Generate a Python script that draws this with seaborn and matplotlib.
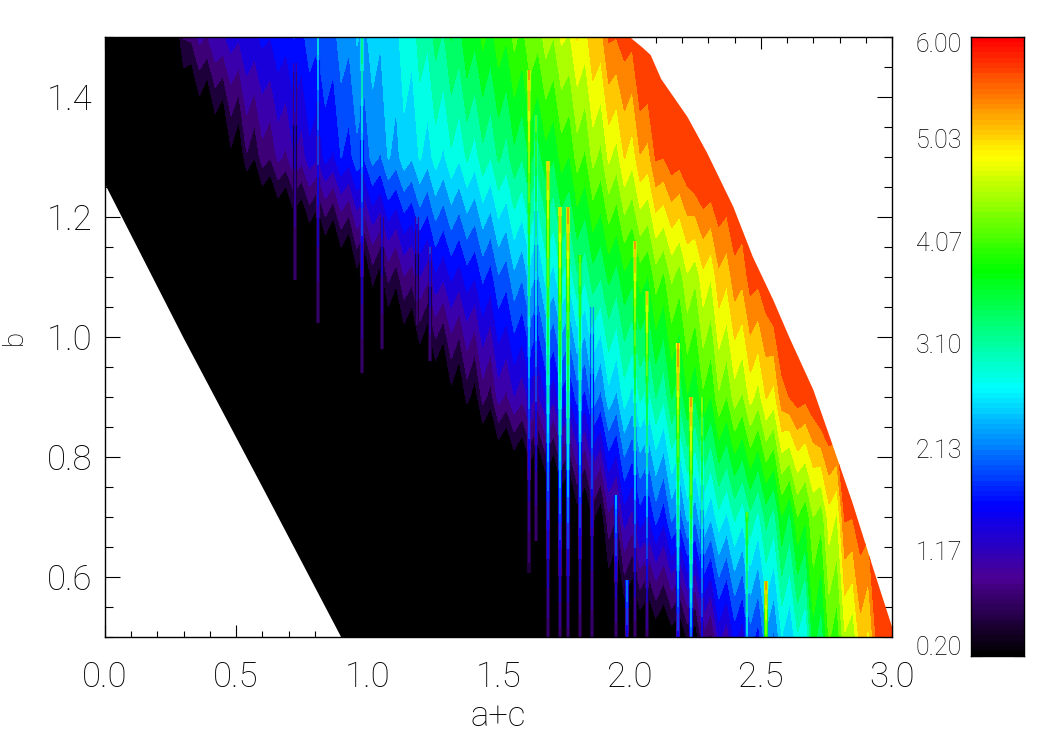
import numpy as np
import matplotlib
matplotlib.use("Agg")
import matplotlib.pyplot as plt
import seaborn as sns
from matplotlib.collections import LineCollection
from matplotlib.colors import LinearSegmentedColormap, ListedColormap, BoundaryNorm
from matplotlib.patches import Polygon

sns.set_theme(style="ticks")
plt.rcParams['font.family'] = ['Roboto', 'DejaVu Sans']
plt.rcParams['font.weight'] = 'light'

# a+c grid step, b rows
N_COLS = 101
ac_step = 0.03
b_rows = [0.5, 0.7, 0.9, 1.1, 1.3, 1.5]

# (first column index, values read along each b row)
row_050 = (58, [-.9,-1.1,-.6,-.9,-.4,-.7,-.2,-.5,0,-.3,.1,-.1,
                .2,0,.3,.1,.55,.25,1.0,.7,1.45,1.15,1.75,1.45,2.1,1.8,2.45,2.15,2.8,2.5,3.05,2.75,3.85,3.45,
                4.3,4.05,4.8,4.6,5.3,5.05,5.75,5.72,6.0])
row_070 = (48, [-1,-1.3,-.8,-1.1,-.6,-.9,-.4,-.8,-.2,-.6,0,-.3,
                .3,0,.55,.25,1.0,.75,1.5,1.25,1.8,1.6,2.05,1.75,2.3,2.05,2.6,2.3,2.85,2.55,3.0,2.75,3.15,2.9,
                3.3,3.0,3.5,3.25,3.95,3.6,4.25,4.0,4.55,4.35,5.0,4.8,5.75,5.72,5.9,5.85,6.0])
row_090 = (32, [-1,-1.3,-.8,-1.1,-.6,-.9,-.4,-.8,-.2,-.6,0,-.3,
                .35,.05,.6,.3,.9,.65,1.2,1.0,1.35,1.15,1.5,1.3,1.65,1.45,1.85,1.65,2.05,1.85,2.4,2.15,2.7,2.45,
                2.95,2.7,3.15,2.95,3.4,3.15,3.7,3.45,3.95,3.7,4.2,3.95,4.5,4.25,4.7,4.5,4.95,4.7,5.15,5.0,
                5.6,5.72,5.85,5.8,5.95])
row_110 = (20, [-1,-1.3,-.8,-1.1,-.6,-.9,-.4,-.8,-.2,-.6,0,-.3,
                .35,.05,.6,.3,.85,.6,1.05,.9,1.35,1.15,1.6,1.4,1.7,1.5,1.8,1.65,2.0,1.8,2.2,2.05,2.45,2.25,
                2.65,2.45,2.9,2.7,3.1,2.9,3.35,3.15,3.55,3.4,3.75,3.55,3.9,3.75,4.1,3.95,4.4,4.2,4.6,4.4,
                4.8,4.6,5.05,4.85,5.35,5.2,5.6,5.5,5.85,5.8,5.95])
row_130 = (4, [-1,-1.3,-.8,-1.1,-.6,-.9,-.4,-.8,-.2,-.6,0,-.3,
               .4,.1,.75,.5,.95,.8,1.15,1.0,1.35,1.2,1.55,1.4,1.75,1.6,1.95,1.8,2.15,2.0,2.35,2.2,2.55,2.4,
               2.7,2.55,2.85,2.65,2.95,2.75,3.05,2.85,3.15,2.95,3.3,3.1,3.45,3.25,3.6,3.4,3.75,3.55,3.85,3.7,
               4.1,3.95,4.4,4.2,4.65,4.45,4.9,4.7,5.15,4.95,5.4,5.3,5.75,5.72,5.9,5.85,6.0])
row_150 = (0, [-.6,-.9,-.4,-.7,-.2,-.5,0,-.3,
               .3,.2,.8,.85,1.15,1.05,1.35,1.3,1.5,1.4,1.65,1.55,1.72,1.65,1.85,1.75,1.95,1.85,2.1,2.0,2.2,2.1,
               2.4,2.3,2.55,2.45,2.65,2.55,2.8,2.7,3.0,2.9,3.25,3.15,3.5,3.35,3.7,3.55,3.95,3.75,4.05,3.85,
               4.15,4.0,4.35,4.15,4.5,4.35,4.7,4.55,4.9,4.8,5.15,5.0,5.4,5.3,5.75,5.72,5.85,5.8])

# narrow spikes: a+c, top b, value at top, bottom b, value at bottom
spike_x   = [0.725,0.813,0.98,1.056,1.19,1.24,1.615,1.643,1.69,1.735,1.766,1.81,1.856,1.948,1.99,2.02,2.066,2.185,2.233,2.276,2.448,2.52]
spike_top = [1.457,1.50,1.50,1.20,1.20,1.15,1.445,1.37,1.293,1.217,1.217,1.137,1.05,0.737,0.595,1.16,1.077,0.99,0.90,0.90,0.708,0.593]
spike_vt  = [1.9,2.9,3.6,1.8,2.0,2.0,5.5,4.4,5.4,5.4,5.6,4.5,3.2,2.7,2.5,5.5,5.3,5.7,5.5,4.7,4.3,5.6]
spike_bot = [1.095,1.023,0.94,0.98,1.02,0.96,0.607,0.66,0.5,0.5,0.5,0.5,0.5,0.5,0.5,0.5,0.5,0.5,0.5,0.5,0.5,0.5]
spike_vb  = [0.8,0.8,0.8,0.8,0.8,0.8,0.7,0.8,0.9,1.0,1.0,0.9,0.9,0.9,1.8,0.9,1.0,1.9,2.4,1.7,2.8,4.5]

# outline of the region that has data
edge_ac = [0.0,0.3,0.6,0.9,3.0,3.0,2.93,2.85,2.776,2.70,2.61,2.547,2.47,2.395,2.295,2.22,2.12,2.08,2.05,2.0,0.0]
edge_b  = [1.255,0.998,0.75,0.5,0.5,0.517,0.612,0.723,0.817,0.912,0.998,1.062,1.133,1.217,1.307,1.367,1.43,1.47,1.482,1.5,1.5]

x_major = [0.0,0.5,1.0,1.5,2.0,2.5,3.0]
y_major = [0.6,0.8,1.0,1.2,1.4]
bar_labels = ["6.00","5.03","4.07","3.10","2.13","1.17","0.20"]
bar_values = [6.0,5.033,4.067,3.1,2.133,1.167,0.2]

rows = [row_050,row_070,row_090,row_110,row_130,row_150]
Z = []
for start, vals in rows:
    r = [-1.5]*start + vals
    r = r + [6.2]*(N_COLS-len(r))
    Z.append(r[:N_COLS])
Z = np.array(Z)
X = np.arange(N_COLS)*ac_step

rainbow = LinearSegmentedColormap.from_list("idl", [
    (0.0,(0,0,0)), (0.12,(75/255,0,145/255)), (0.24,(0,0,1)),
    (0.432,(0,1,1)), (0.624,(0,1,0)), (0.81,(1,1,0)), (1.0,(1,0,0))])
levels = np.linspace(0.2,6.0,21)
band_cols = [rainbow(f) for f in np.linspace(0,0.95,20)]
band_cmap = ListedColormap(band_cols)
band_norm = BoundaryNorm(levels,20)
fill_levels = levels.copy()
fill_levels[0] = -5
fill_levels[-1] = 50

fig = plt.figure(figsize=(10.5,7.5),dpi=100,facecolor="white")
ax = fig.add_axes([105/1050,113/750,787/1050,600/750])
cs = ax.contourf(X,b_rows,Z,levels=fill_levels,colors=band_cols,antialiased=False)
clip = Polygon(np.column_stack([edge_ac,edge_b]),closed=True,transform=ax.transData,fc="none",ec="none")
ax.add_patch(clip)
cs.set_clip_path(clip)

for x,t,vt,bt,vb in zip(spike_x,spike_top,spike_vt,spike_bot,spike_vb):
    ys = np.linspace(bt,t,50)
    vs = np.linspace(vb,vt,49)
    segs = [[(x,ys[i]),(x,ys[i+1])] for i in range(49)]
    wide = LineCollection(segs,array=np.maximum(vs-0.8,0.5),cmap=band_cmap,norm=band_norm,linewidths=3.0,capstyle="butt")
    thin = LineCollection(segs,array=vs,cmap=band_cmap,norm=band_norm,linewidths=1.1,capstyle="butt")
    ax.add_collection(wide); ax.add_collection(thin)

ax.set_xlim(0,3); ax.set_ylim(0.5,1.5)
ax.set_xticks(x_major)
ax.set_xticklabels([f"{v:.1f}" for v in x_major],fontsize=25,color="black")
ax.set_yticks(y_major)
ax.set_yticklabels([f"{v:.1f}" for v in y_major],fontsize=25,color="black")
ax.set_xticks(np.arange(0,3.01,0.1),minor=True)
ax.set_yticks(np.arange(0.5,1.51,0.05),minor=True)
ax.tick_params(axis="x",which="major",direction="in",top=True,bottom=True,length=8.5,width=0.8,pad=17,color="black")
ax.tick_params(axis="x",which="minor",direction="in",top=True,bottom=True,length=4.5,width=0.8,color="black")
ax.tick_params(axis="y",which="major",direction="in",left=True,right=True,length=11,width=0.8,pad=9,color="black")
ax.tick_params(axis="y",which="minor",direction="in",left=True,right=True,length=5.5,width=0.8,color="black")
for s in ax.spines.values():
    s.set_linewidth(1.0); s.set_color("black"); s.set_visible(True)
fig.text(498/1050,1-716/750,"a+c",ha="center",va="center",fontsize=25,color="black")
fig.text(14/1050,1-337/750,"b",ha="center",va="center",rotation=90,fontsize=20,color="black")

# colour bar
cax = fig.add_axes([971/1050,94/750,53/1050,619/750])
n_bar = 120
bar = np.linspace(6.0,0.2,n_bar).reshape(-1,1)
sns.heatmap(bar,ax=cax,cmap=rainbow,vmin=0.2,vmax=6.0,cbar=False,xticklabels=False,yticklabels=False)
cax.set_xticks([])
maj = [(6.0-v)/5.8*n_bar for v in bar_values]
minr = [(maj[i]+maj[i+1])/2 for i in range(6)]
cax.set_yticks(maj)
cax.set_yticklabels([])
cax.set_yticks(minr,minor=True)
cax.tick_params(axis="y",which="major",direction="in",left=True,right=True,length=8,width=0.8,color="black")
cax.tick_params(axis="y",which="minor",direction="in",left=True,right=True,length=4,width=0.8,color="black")
for s in cax.spines.values():
    s.set_visible(True); s.set_linewidth(1.0); s.set_color("black")
label_y = [45,141,244,346,451,553,648]
for lab,y in zip(bar_labels,label_y):
    fig.text(962/1050,1-y/750,lab,ha="right",va="center",fontsize=18,color="black")

fig.savefig("out.png",dpi=100)
